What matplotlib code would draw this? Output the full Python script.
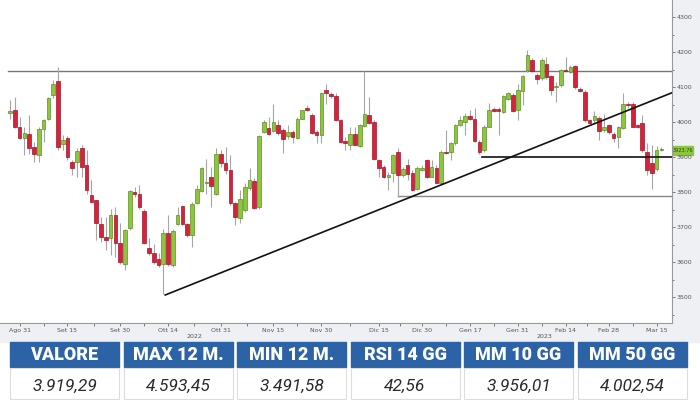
import matplotlib.pyplot as plt
from matplotlib.patches import Rectangle
import numpy as np

# daily candles (Aug 29 2022 - Mar 15 2023)
opens = [4025, 4034, 3987, 3956, 3966, 3928, 3906, 3979, 4008, 4077,
         4118, 3937, 3956, 3887, 3887, 3925, 3877, 3793, 3777, 3709,
         3671, 3668, 3734, 3656, 3594, 3698, 3801, 3794, 3747, 3641,
         3627, 3608, 3596, 3682, 3592, 3709, 3761, 3709, 3677, 3768,
         3803, 3826, 3844, 3796, 3909, 3882, 3863, 3768, 3725, 3749,
         3813, 3831, 3758, 3972, 3982, 3975, 3991, 3977, 3960, 3973,
         3956, 4010, 4039, 4020, 3972, 3963, 4093, 4080, 4074, 4006,
         3946, 3936, 3965, 3931, 3988, 4020, 4001, 3891, 3872, 3844,
         3855, 3915, 3848, 3877, 3855, 3808, 3863, 3893, 3844, 3870,
         3827, 3915, 3914, 3939, 3991, 4001, 4017, 4008, 3944, 3920,
         3986, 4037, 4037, 4029, 4067, 4077, 4036, 4089, 4148, 4177,
         4134, 4125, 4167, 4131, 4100, 4106, 4150, 4144, 4160, 4096,
         4086, 4006, 4007, 4013, 3977, 3991, 3967, 3958, 3982, 4053,
         4053, 3991, 3998, 3915, 3884, 3865, 3920]
highs = [4063, 4072, 4015, 3987, 4020, 3944, 3987, 4010, 4072, 4120,
         4158, 3963, 3960, 3891, 3925, 3934, 3920, 3834, 3777, 3730,
         3730, 3753, 3758, 3711, 3696, 3806, 3815, 3820, 3753, 3668,
         3653, 3625, 3696, 3734, 3696, 3758, 3763, 3711, 3772, 3820,
         3872, 3896, 3872, 3925, 3920, 3928, 3906, 3772, 3806, 3825,
         3868, 3839, 3963, 4006, 4015, 4053, 4006, 3982, 3991, 3977,
         4015, 4036, 4048, 4025, 3977, 4087, 4110, 4085, 4082, 4010,
         3958, 3986, 3986, 3996, 4146, 4072, 4006, 3896, 3877, 3858,
         3910, 3925, 3872, 3896, 3863, 3874, 3877, 3896, 3891, 3877,
         3920, 3977, 3944, 3996, 4017, 4025, 4034, 4039, 3948, 3991,
         4055, 4044, 4044, 4077, 4086, 4082, 4110, 4134, 4207, 4182,
         4139, 4182, 4186, 4134, 4115, 4153, 4186, 4163, 4163, 4101,
         4091, 4010, 4032, 4017, 4023, 3994, 3972, 3988, 4082, 4058,
         4058, 3996, 4020, 3939, 3934, 3931, 3930]
lows = [4010, 3982, 3953, 3906, 3910, 3887, 3887, 3944, 4006, 4068,
        3920, 3920, 3891, 3849, 3844, 3844, 3796, 3768, 3663, 3658,
        3634, 3620, 3615, 3596, 3577, 3691, 3787, 3753, 3653, 3620,
        3596, 3587, 3510, 3590, 3587, 3706, 3706, 3672, 3644, 3766,
        3801, 3796, 3758, 3791, 3872, 3853, 3763, 3706, 3712, 3744,
        3806, 3753, 3753, 3968, 3963, 3972, 3963, 3912, 3953, 3939,
        3953, 4008, 4032, 3966, 3941, 3941, 4053, 4070, 4004, 3941,
        3920, 3920, 3934, 3929, 3986, 3996, 3893, 3844, 3839, 3806,
        3829, 3787, 3844, 3834, 3804, 3806, 3861, 3839, 3842, 3825,
        3823, 3910, 3891, 3934, 3988, 3963, 4006, 3944, 3910, 3915,
        3985, 4029, 3963, 4026, 4063, 4029, 4006, 4048, 4144, 4144,
        4110, 4120, 4122, 4077, 4058, 4101, 4144, 4139, 4096, 4086,
        4001, 3996, 3996, 3948, 3972, 3967, 3944, 3925, 3979, 4039,
        3985, 3982, 3915, 3848, 3810, 3861, 3918]
closes = [4032, 3987, 3956, 3968, 3925, 3909, 3979, 4006, 4068, 4110,
          3929, 3949, 3901, 3868, 3918, 3872, 3806, 3772, 3711, 3671,
          3663, 3734, 3655, 3601, 3691, 3803, 3794, 3758, 3655, 3625,
          3601, 3592, 3684, 3596, 3690, 3734, 3709, 3677, 3766, 3810,
          3870, 3830, 3817, 3910, 3882, 3863, 3768, 3728, 3779, 3815,
          3834, 3756, 3960, 4001, 3966, 4001, 3968, 3953, 3972, 3958,
          4010, 4034, 4034, 3969, 3963, 4082, 4082, 4075, 4006, 3944,
          3939, 3965, 3936, 3991, 4023, 3998, 3896, 3869, 3844, 3848,
          3906, 3848, 3867, 3853, 3806, 3870, 3870, 3844, 3872, 3827,
          3915, 3912, 3939, 3991, 4006, 4017, 4010, 3946, 3915, 3986,
          4036, 4032, 4032, 4074, 4084, 4032, 4091, 4131, 4191, 4146,
          4122, 4177, 4129, 4091, 4104, 4148, 4146, 4158, 4101, 4089,
          4006, 3998, 4017, 3975, 3986, 3972, 3956, 3985, 4051, 4048,
          3986, 3986, 3920, 3863, 3855, 3920, 3924]

date_pos = [2, 12, 23, 33, 44, 55, 65, 77, 86, 96, 106, 116, 125, 135]
date_labels = ['Ago 31', 'Set 15', 'Set 30', 'Ott 14', 'Ott 31', 'Nov 15', 'Nov 30',
               'Dic 15', 'Dic 30', 'Gen 17', 'Gen 31', 'Feb 14', 'Feb 28', 'Mar 15']

headers = ['VALORE', 'MAX 12 M.', 'MIN 12 M.', 'RSI 14 GG', 'MM 10 GG', 'MM 50 GG']
values = ['3.919,29', '4.593,45', '3.491,58', '42,56', '3.956,01', '4.002,54']

panel = '#eef0f3'
blue = '#2c62a6'
green = '#8cc63f'
red = '#d8213b'

fig = plt.figure(figsize=(7, 4), dpi=100)

# background layer in pixel coords
bg = fig.add_axes([0, 0, 1, 1])
bg.set_xlim(0, 700)
bg.set_ylim(400, 0)
bg.axis('off')
bg.add_patch(Rectangle((672, 0), 28, 342, color=panel))
bg.add_patch(Rectangle((0, 323), 700, 19, color=panel))
bg.text(194, 336, '2022', fontsize=4.5, color='#555', ha='center', va='center')
bg.text(544, 336, '2023', fontsize=4.5, color='#555', ha='center', va='center')

# table
cw = 109
for k, (h, v) in enumerate(zip(headers, values)):
    x0 = 10 + k * (cw + 4.5)
    bg.add_patch(Rectangle((x0, 342), cw, 25, color=blue))
    bg.add_patch(Rectangle((x0, 368), cw, 31, facecolor='white', edgecolor='#dddddd', lw=0.8))
    bg.text(x0 + cw / 2, 355, h, color='white', fontsize=13, fontweight='heavy',
            family='Roboto', ha='center', va='center')
    bg.text(x0 + cw / 2, 386, v, color='#2a2a2a', fontsize=12.5, style='italic',
            family='Roboto', ha='center', va='center')

# price tag
bg.add_patch(Rectangle((672, 145.5), 21, 9, color=green))
bg.text(682.5, 150, '3923.76', fontsize=3.6, color='#2b4a10', ha='center', va='center')

ax = fig.add_axes([0, 1 - 323 / 400, 672 / 700, 323 / 400])
o = np.array(opens)
hh = np.array(highs)
ll = np.array(lows)
c = np.array(closes)
x = np.arange(len(o))
up = c >= o
cols = np.where(up, green, red)
edges = np.where(up, '#5f8f22', '#9e1527')

ax.vlines(x, ll, hh, color='#a5a5a5', lw=0.8, zorder=2)
body = np.abs(c - o)
body = np.maximum(body, 3)
ax.bar(x, body, bottom=np.minimum(o, c), width=0.76, color=cols, edgecolor=edges,
       linewidth=0.5, zorder=3)

# drawn lines
ax.plot([-0.5, 140], [4147, 4147], color='#777777', lw=1.0, zorder=1)
ax.plot([32.4, 138.2], [3506, 4084], color='#111111', lw=1.2, zorder=4)
ax.plot([98.5, 140], [3901, 3901], color='#111111', lw=1.2, zorder=4)
ax.plot([81, 140], [3788, 3788], color='#888888', lw=1.0, zorder=1)
ax.plot([81, 81], [3788, 3850], color='#aaaaaa', lw=0.8, zorder=1)

ax.set_xlim(-2.09, 138.2)
ax.set_ylim(3426, 4349)
ax.yaxis.tick_right()
ax.set_yticks(np.arange(3500, 4301, 100))
ax.set_yticks(np.arange(3450, 4350, 50), minor=True)
ax.set_xticks(date_pos)
ax.set_xticklabels(date_labels)
ax.set_xticks([(a + b) / 2 for a, b in zip(date_pos[:-1], date_pos[1:])], minor=True)
ax.tick_params(axis='both', which='both', labelsize=4.5, labelcolor='#555555',
               color='#666666', length=2, width=0.6, pad=1.5)
ax.tick_params(axis='y', which='minor', length=1.5)
for s in ['top', 'left']:
    ax.spines[s].set_visible(False)
for s in ['right', 'bottom']:
    ax.spines[s].set_color('#999999')
    ax.spines[s].set_linewidth(0.8)

fig.savefig('out.png', dpi=100)
